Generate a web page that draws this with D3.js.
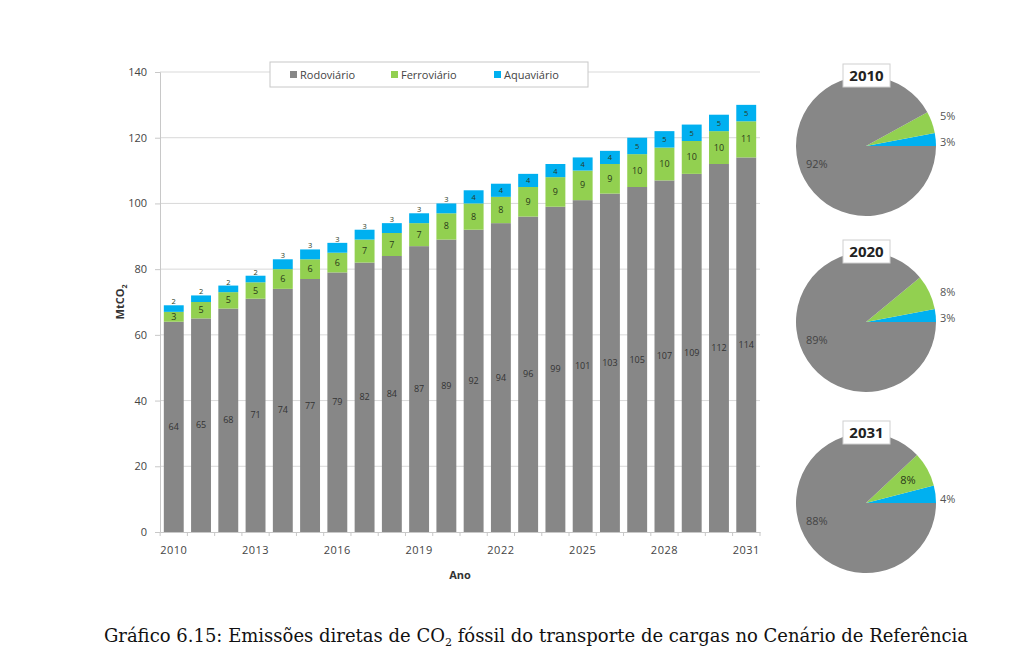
<!DOCTYPE html>
<html><head><meta charset="utf-8">
<script src="https://cdn.jsdelivr.net/npm/d3@7"></script>
<style>body{margin:0;background:#fff;}svg{display:block;}</style>
</head><body>
<svg id="c" width="1024" height="660"></svg>
<script>
const years = d3.range(2010, 2032).map(String);
const rodoviario = [64,65,68,71,74,77,79,82,84,87,89,92,94,96,99,101,103,105,107,109,112,114];
const ferroviario = [3,5,5,5,6,6,6,7,7,7,8,8,8,9,9,9,9,10,10,10,10,11];
const aquaviario = [2,2,2,2,3,3,3,3,3,3,3,4,4,4,4,4,4,5,5,5,5,5];
const seriesNames = ["Rodoviário","Ferroviário","Aquaviário"];
const colors = ["#878787","#92d050","#00b0f0"];
const yTicks = [0,20,40,60,80,100,120,140];
const xTickLabels = ["2010","2013","2016","2019","2022","2025","2028","2031"];
const pieYears = ["2010","2020","2031"];
const pieShares = [[92,5,3],[89,8,3],[88,8,4]]; // rod, ferro, aqua
const caption = "Gráfico 6.15: Emissões diretas de CO";

const svg = d3.select("#c");
const font = "'Open Sans', sans-serif";
const x = d3.scaleBand().domain(years).range([160,760]).paddingInner(0.27).paddingOuter(0.14);
const y = d3.scaleLinear().domain([0,140]).range([532,72]);

// gridlines
svg.append("g").selectAll("line").data(yTicks.slice(1)).join("line")
  .attr("x1",160).attr("x2",760).attr("y1",d=>y(d)).attr("y2",d=>y(d))
  .attr("stroke","#d9d9d9").attr("stroke-width",1);

// axes
const yAxis = svg.append("g").attr("transform","translate(160,0)")
  .call(d3.axisLeft(y).tickValues(yTicks).tickSize(5).tickPadding(8));
yAxis.select(".domain").attr("stroke","#c8c8c8");
yAxis.selectAll(".tick line").attr("stroke","#c8c8c8");
yAxis.selectAll("text").attr("font-family",font).attr("font-size",11).attr("fill","#444");

const xAxis = svg.append("g").attr("transform","translate(0,532)")
  .call(d3.axisBottom(x).tickValues(xTickLabels).tickSize(0).tickPadding(14));
xAxis.select(".domain").attr("stroke","#c8c8c8");
xAxis.selectAll("text").attr("font-family",font).attr("font-size",11).attr("fill","#444").attr("letter-spacing","0.5");
// minor ticks between bars
svg.append("g").selectAll("line").data(years.concat(["end"])).join("line")
  .attr("x1",(d,i)=> i<years.length ? x(d)-x.step()*x.paddingInner()/2 : 760)
  .attr("x2",(d,i)=> i<years.length ? x(d)-x.step()*x.paddingInner()/2 : 760)
  .attr("y1",532).attr("y2",536).attr("stroke","#c8c8c8");

// stacked data
const table = years.map((yr,i)=>({year:yr, "Rodoviário":rodoviario[i], "Ferroviário":ferroviario[i], "Aquaviário":aquaviario[i]}));
const stack = d3.stack().keys(seriesNames)(table);
const g = svg.append("g");
stack.forEach((s,si)=>{
  g.append("g").selectAll("rect").data(s).join("rect")
    .attr("x",d=>x(d.data.year)).attr("width",x.bandwidth())
    .attr("y",d=>y(d[1])).attr("height",d=>y(d[0])-y(d[1]))
    .attr("fill",colors[si]);
});
stack.forEach((s,si)=>{
  g.append("g").selectAll("text").data(s).join("text")
    .attr("x",d=>x(d.data.year)+x.bandwidth()/2)
    .attr("y",d=> {
      if(si===2 && (d[1]-d[0])<4) return y(d[1])-1;
      return y((d[0]+d[1])/2)+3;
    })
    .attr("text-anchor","middle").attr("font-family",font)
    .attr("font-size", si===2 ? 7.5 : 9).attr("fill", si===0 ? "#333":"#2a3a1a")
    .text(d=>d[1]-d[0]);
});

// axis titles
svg.append("text").attr("x",460).attr("y",579).attr("text-anchor","middle")
  .attr("font-family",font).attr("font-size",11).attr("font-weight","bold").attr("fill","#333").text("Ano");
const yl = svg.append("text").attr("transform","translate(124,302) rotate(-90)").attr("text-anchor","middle")
  .attr("font-family",font).attr("font-size",11).attr("font-weight","bold").attr("fill","#333");
yl.append("tspan").text("MtCO");
yl.append("tspan").attr("font-size",7).attr("dy",3).text("2");

// legend
const lg = svg.append("g");
lg.append("rect").attr("x",270).attr("y",62).attr("width",318).attr("height",25)
  .attr("fill","#fff").attr("stroke","#c8c8c8");
const lx = [290,391,494];
seriesNames.forEach((n,i)=>{
  lg.append("rect").attr("x",lx[i]).attr("y",71).attr("width",7).attr("height",7).attr("fill",colors[i]);
  lg.append("text").attr("x",lx[i]+10).attr("y",79).attr("font-family",font).attr("font-size",11)
    .attr("fill","#444").text(n);
});

// pies
const pieCy = [146,322,503];
const r = 70;
const pie = d3.pie().sort(null).value(d=>d).startAngle(Math.PI/2).endAngle(Math.PI/2-2*Math.PI);
const arc = d3.arc().innerRadius(0).outerRadius(r);
const pieColors = [colors[2],colors[1],colors[0]];
pieYears.forEach((py,pi)=>{
  const pg = svg.append("g").attr("transform",`translate(866,${pieCy[pi]})`);
  const vals = [pieShares[pi][2],pieShares[pi][1],pieShares[pi][0]];
  const arcs = pie(vals);
  pg.selectAll("path").data(arcs).join("path").attr("d",arc).attr("fill",(d,i)=>pieColors[i]);
  arcs.forEach((a,i)=>{
    const mid = (a.startAngle+a.endAngle)/2;
    let lx, ly, anchor="start", fill="#555";
    if(i===2){ lx=-60; ly=22; fill="#444"; }
    else if(i===1 && pi===2){ lx=Math.sin(mid)*r*0.72-10; ly=-Math.cos(mid)*r*0.72+5; fill="#2a3a1a"; }
    else { lx=r+4; ly = i===0 ? 0 : -26; }
    pg.append("text").attr("x",lx).attr("y",ly).attr("text-anchor",anchor)
      .attr("font-family",font).attr("font-size",11).attr("fill",fill).text(vals[i]+"%");
  });
  svg.append("rect").attr("x",843).attr("y",pieCy[pi]-82).attr("width",47).attr("height",23)
    .attr("fill","#fff").attr("stroke","#d0d0d0");
  svg.append("text").attr("x",866.5).attr("y",pieCy[pi]-65).attr("text-anchor","middle")
    .attr("font-family",font).attr("font-size",15).attr("font-weight","bold").attr("fill","#222").text(py);
});

// caption
const cap = svg.append("text").attr("x",536).attr("y",642).attr("text-anchor","middle")
  .attr("font-family","'DejaVu Serif', serif").attr("font-size",18).attr("fill","#111");
cap.append("tspan").text(caption);
cap.append("tspan").attr("font-size",11).attr("dy",4).text("2");
cap.append("tspan").attr("dy",-4).text(" fóssil do transporte de cargas no Cenário de Referência");
</script>
</body></html>
